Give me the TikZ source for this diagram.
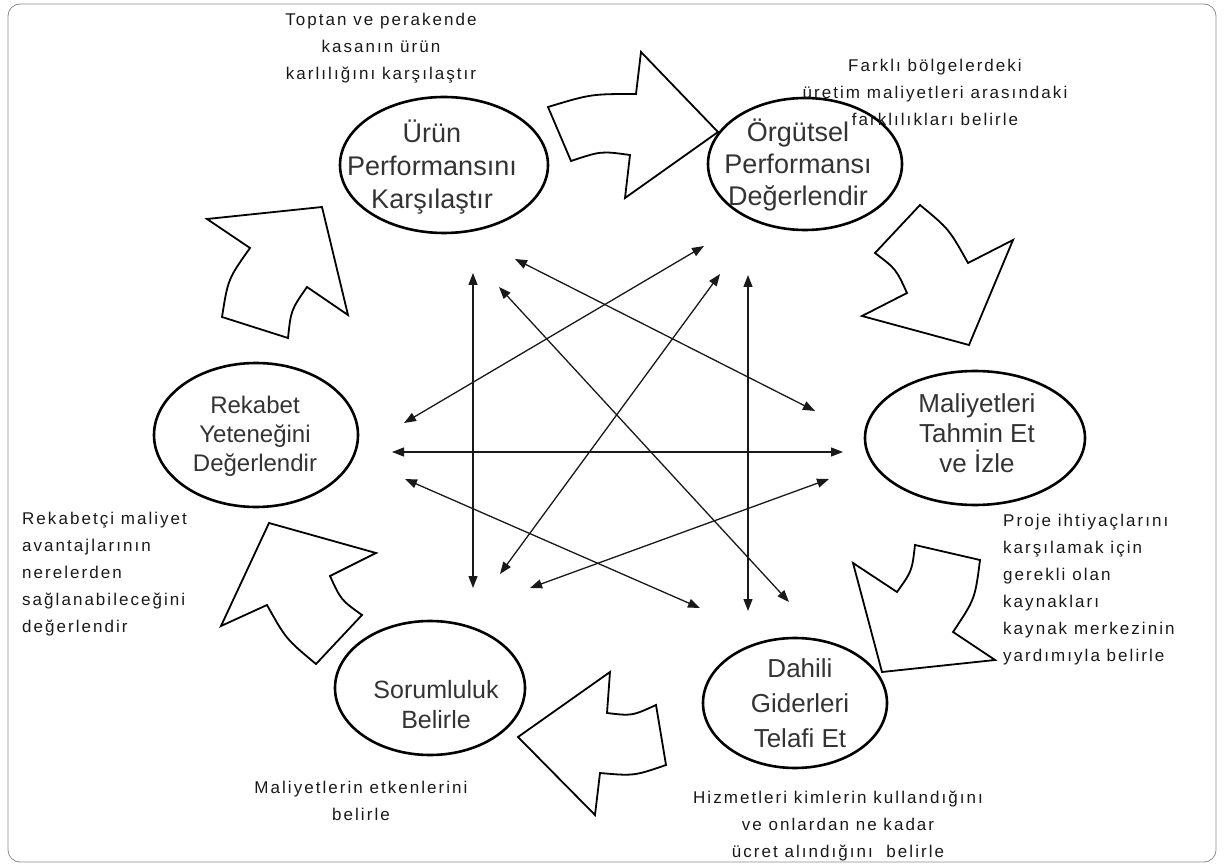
\documentclass[tikz,border=0pt]{standalone}
\usepackage{fontspec}
\setmainfont{Liberation Sans}
\newfontfamily\notefont[LetterSpace=12]{Liberation Sans}
\usetikzlibrary{arrows.meta}

\begin{document}
\begin{tikzpicture}[x=1pt,y=-1pt,
  bubble/.style={draw=black, line width=2.6pt},
  bubbletext/.style={align=center, inner sep=0pt, text=black!80},
  note/.style={inner sep=0pt, text=black!90, font=\notefont\fontsize{17}{27}\selectfont},
  blockarrow/.style={draw=black, line width=1.8pt, fill=white, line join=miter},
  link/.style={{Triangle[length=12pt,width=9pt]}-{Triangle[length=12pt,width=9pt]},
               line width=1.3pt, draw=black!90},
]
\useasboundingbox (0,0) rectangle (1224,866);
\draw[black!45, line width=0.8pt, rounded corners=12pt] (8,4) rectangle (1216,862);

% ---------------- six process ellipses ----------------
\draw[bubble] (444,165) ellipse [x radius=104, y radius=68];
\node[bubbletext, font=\fontsize{27}{33}\selectfont] (urun) at (432,167)
  {Ürün\\Performansını\\Karşılaştır};

\draw[bubble] (805,164) ellipse [x radius=97, y radius=66];
\node[bubbletext, font=\fontsize{27}{32}\selectfont] (orgut) at (798,165)
  {Örgütsel\\Performansı\\Değerlendir};

\draw[bubble] (975,438) ellipse [x radius=110, y radius=67];
\node[bubbletext, font=\fontsize{26}{30}\selectfont] (maliyet) at (977,433)
  {Maliyetleri\\Tahmin Et\\ve İzle};

\draw[bubble] (795,703) ellipse [x radius=92, y radius=65];
\node[bubbletext, font=\fontsize{26}{35}\selectfont] (dahili) at (800,703)
  {Dahili\\Giderleri\\Telafi Et};

\draw[bubble] (430,688) ellipse [x radius=95, y radius=67];
\node[bubbletext, font=\fontsize{25}{30}\selectfont] (sorum) at (436,705)
  {Sorumluluk\\Belirle};

\draw[bubble] (256,435) ellipse [x radius=102, y radius=72];
\node[bubbletext, font=\fontsize{24}{29}\selectfont] (rekabet) at (255,436)
  {Rekabet\\Yeteneğini\\Değerlendir};

% ---------------- curved block arrows around the cycle ----------------
% top: towards Örgütsel
\draw[blockarrow] (548,107) .. controls (591,94) .. (636,94) -- (641,52) -- (718,132)
  -- (625,198) -- (630,155) .. controls (601,151) .. (571,161) -- cycle;
% upper right: towards Maliyetleri
\draw[blockarrow] (875,253) -- (920,205) .. controls (949,229) .. (968,263) -- (1013,240)
  -- (969,345) -- (862,316) -- (907,293) .. controls (896,269) .. (875,253) -- cycle;
% lower right: towards Dahili
\draw[blockarrow] (915,545) -- (980,560) .. controls (975,599) .. (953,632) -- (995,660)
  -- (882,672) -- (853,563) -- (897,592) .. controls (912,571) .. (915,545) -- cycle;
% bottom: towards Sorumluluk
\draw[blockarrow] (518,737) -- (610,672) -- (607,713) .. controls (632,716) .. (656,705)
  -- (666,765) .. controls (634,776) .. (600,773) -- (595,815) -- cycle;
% lower left: towards Rekabet
\draw[blockarrow] (269,523) -- (376,553) -- (330,576) .. controls (341,600) .. (362,615)
  -- (316,664) .. controls (286,639) .. (267,605) -- (221,626) -- cycle;
% upper left: towards Ürün
\draw[blockarrow] (207,219) -- (322,207) -- (348,315) -- (307,287)
  .. controls (291,310) .. (288,338) -- (222,317) .. controls (228,279) .. (250,248) -- cycle;

% ---------------- interaction arrows in the middle ----------------
\coordinate (v1a) at (473,273);  \coordinate (v1b) at (473,588);
\coordinate (v2a) at (748,275);  \coordinate (v2b) at (748,611);
\coordinate (h1a) at (392,452);  \coordinate (h1b) at (843,452);
\coordinate (d1a) at (515,259);  \coordinate (d1b) at (815,411);
\coordinate (d2a) at (704,246);  \coordinate (d2b) at (404,423);
\coordinate (d3a) at (499,287);  \coordinate (d3b) at (789,602);
\coordinate (d4a) at (720,274);  \coordinate (d4b) at (500,574);
\coordinate (d5a) at (405,479);  \coordinate (d5b) at (700,608);
\coordinate (d6a) at (829,479);  \coordinate (d6b) at (530,588);
\draw[link] (v1a) -- (v1b);
\draw[link] (v2a) -- (v2b);
\draw[link] (h1a) -- (h1b);
\draw[link] (d1a) -- (d1b);
\draw[link] (d2a) -- (d2b);
\draw[link] (d3a) -- (d3b);
\draw[link] (d4a) -- (d4b);
\draw[link] (d5a) -- (d5b);
\draw[link] (d6a) -- (d6b);

% ---------------- explanatory notes ----------------
\node[note, align=center] (n1) at (381,48)
  {Toptan ve perakende\\kasanın ürün\\karlılığını karşılaştır};
\node[note, align=center] (n2) at (935,92)
  {Farklı bölgelerdeki\\üretim maliyetleri arasındaki\\farklılıkları belirle};
\node[note, align=left, anchor=west] (n3) at (1003,590)
  {Proje ihtiyaçlarını\\karşılamak için\\gerekli olan\\kaynakları\\kaynak merkezinin\\yardımıyla belirle};
\node[note, align=center] (n4) at (838,826)
  {Hizmetleri kimlerin kullandığını\\ve onlardan ne kadar\\ücret alındığını\ \ belirle};
\node[note, align=center] (n5) at (361,801)
  {Maliyetlerin etkenlerini\\belirle};
\node[note, align=left, anchor=west] (n6) at (22,574)
  {Rekabetçi maliyet\\avantajlarının\\nerelerden\\sağlanabileceğini\\değerlendir};
\end{tikzpicture}
\end{document}
